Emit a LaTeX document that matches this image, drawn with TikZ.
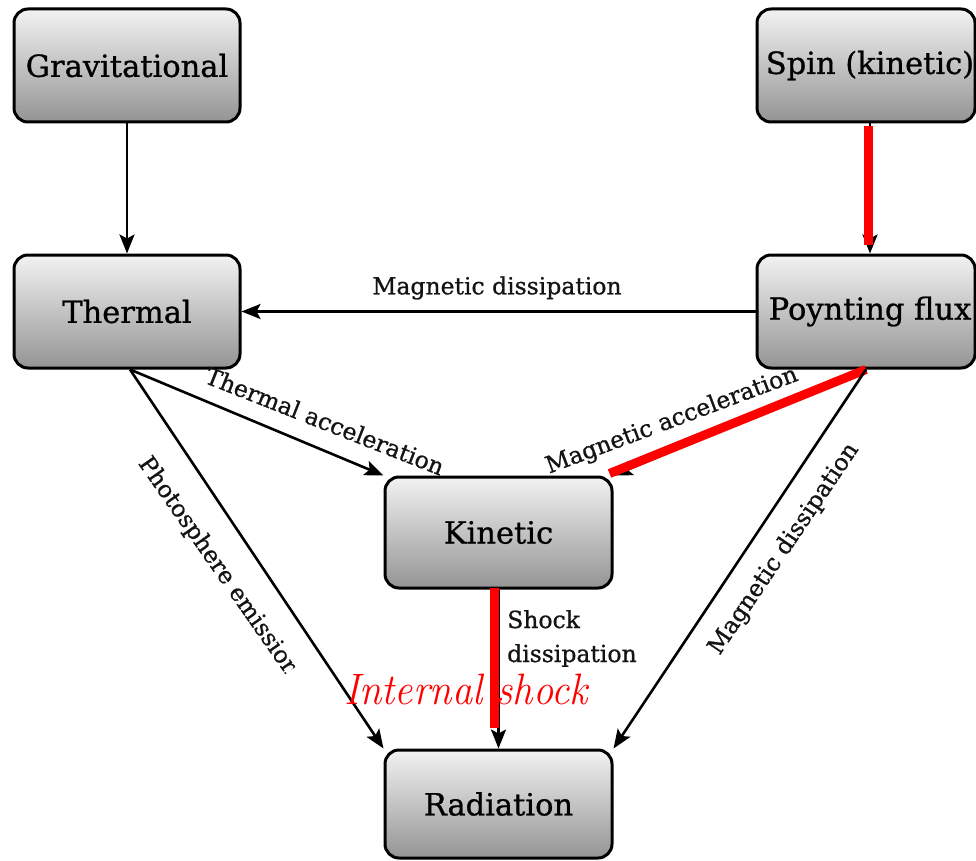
\documentclass[tikz,border=0pt]{standalone}
\usepackage{fontspec}
\newfontfamily\dvs[FakeBold=0.8]{DejaVu Serif}
\usetikzlibrary{arrows.meta}
\tikzset{
  box/.style={draw=black, line width=3pt, rounded corners=14pt,
    top color=black!5, bottom color=black!42,
    minimum width=226pt, minimum height=113pt, inner sep=0pt,
    font=\dvs\fontsize{30.5}{34}\selectfont},
  arr/.style={draw=black, line width=2.6pt, -{Stealth[length=19pt,width=15pt,inset=4pt]}},
  redline/.style={draw=red, line width=9pt},
  lbl/.style={font=\dvs\fontsize{23.5}{27}\selectfont, inner sep=0pt, text=black!92},
  redtxt/.style={font=\fontsize{44}{48}\selectfont\itshape, text=red, inner sep=0pt},
}
\begin{document}
\begin{tikzpicture}[x=1pt,y=-1pt]
\useasboundingbox (0,0) rectangle (976,861);
\fill[white] (0,0) rectangle (976,861);
% boxes
\node[box] (grav) at (127,65.5) {Gravitational};
\node[box, minimum width=218pt] (spin) at (866,65.5) {\hspace*{8pt}Spin (kinetic)};
\node[box] (therm) at (127,311.5) {Thermal};
\node[box, minimum width=218pt] (poy) at (866,311.5) {\hspace*{8pt}Poynting flux};
\node[box, minimum width=227pt, minimum height=111pt] (kin) at (498.5,532.5) {Kinetic};
\node[box, minimum width=227pt, minimum height=108pt] (rad) at (498.5,804) {Radiation};
% connectors
\draw[arr] (grav.south) -- (therm.north);
\draw[arr] ([xshift=4pt]spin.south) -- ([xshift=4pt]poy.north);
\draw[redline] ([xshift=2.5pt,yshift=-3pt]spin.south) -- ([xshift=2.5pt,yshift=9pt]poy.north);
\draw[arr] (poy.west) -- (therm.east);
\draw[arr] ([xshift=3pt]therm.south) -- (kin.north west);
\draw[arr] ([xshift=3pt]therm.south) -- (rad.north west);
\draw[arr] (poy.south) -- (kin.north east);
\draw[redline] (poy.south) -- ([xshift=-4pt,yshift=2pt]kin.north east);
\draw[arr] (poy.south) -- (rad.north east);
\draw[arr] (kin.south) -- (rad.north);
\draw[redline] ([xshift=-4.5pt,yshift=2pt]kin.south) -- ([xshift=-4.5pt,yshift=21pt]rad.north);
% labels
\node[lbl] (lmd1) at (497,288) {Magnetic dissipation};
\node[lbl, rotate=-21.5] (lta) at (325,421) {Thermal acceleration};
\begin{scope}
  \clip[rotate around={-55:(218.3,567.1)}] (18.3,527.1) rectangle (344.3,607.1);
  \node[lbl, rotate=-55] (lpe) at (218.3,567.1) {Photosphere emission};
\end{scope}
\node[lbl, rotate=20.5] (lma) at (672,421) {Magnetic acceleration};
\node[lbl, rotate=56] (lmd2) at (784,549) {Magnetic dissipation};
\node[lbl, anchor=base west] (lsd1) at (507,628) {Shock};
\node[lbl, anchor=base west] (lsd2) at (507,662) {dissipation};
\node[redtxt, anchor=base west] (lis) at (344,704) {\scalebox{0.92}[1]{Internal shock}};
\end{tikzpicture}
\end{document}
